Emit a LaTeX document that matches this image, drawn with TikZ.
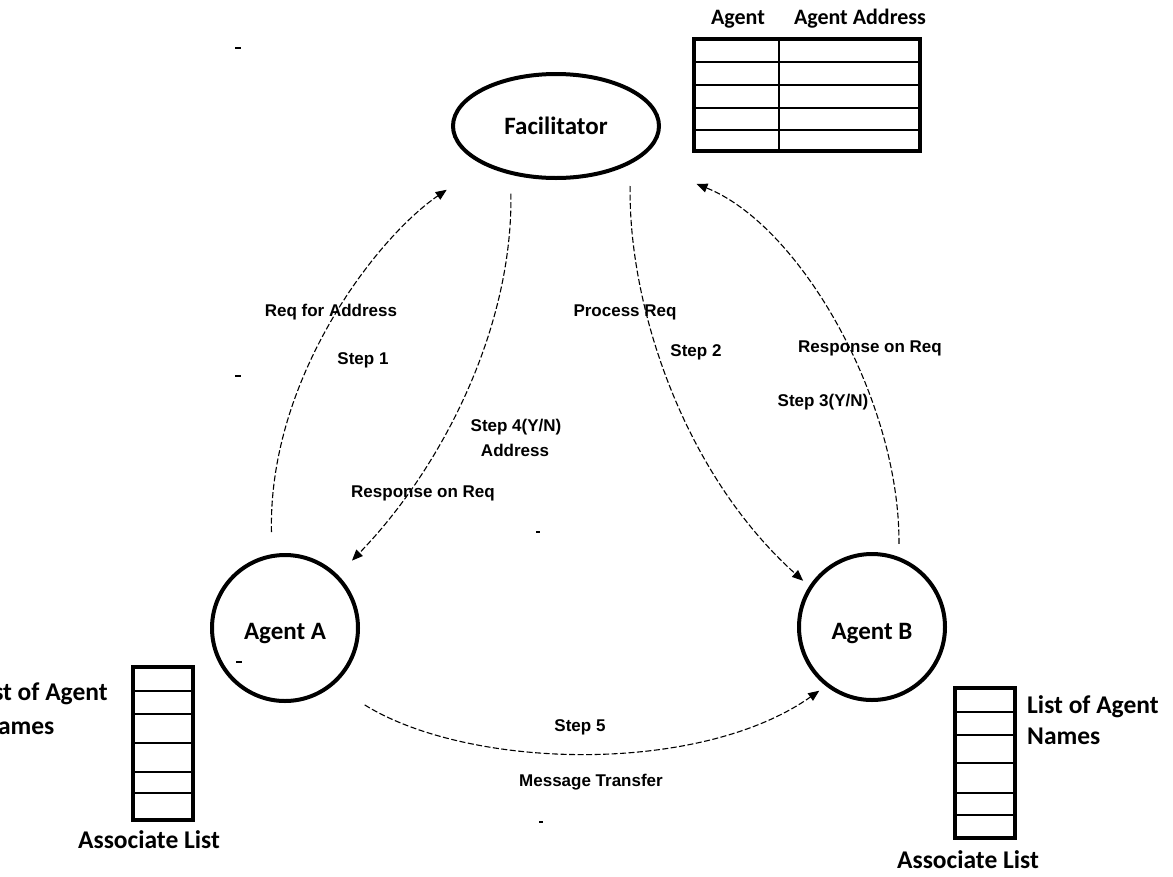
\documentclass[tikz,border=0pt]{standalone}
\usepackage{fontspec}
\setmainfont{Carlito}
\newfontfamily\stepfont{Liberation Sans}
\usetikzlibrary{arrows.meta,shapes.geometric}
\begin{document}
\begin{tikzpicture}[x=1pt,y=-1pt,
  agent/.style={circle, draw, line width=4pt, minimum size=146pt, inner sep=0pt,
    font=\bfseries\fontsize{25}{30}\selectfont},
  hub/.style={ellipse, draw, line width=4pt, minimum width=206pt, minimum height=104pt,
    inner sep=0pt, font=\bfseries\fontsize{25}{30}\selectfont},
  flow/.style={line width=1.1pt, dash pattern=on 6pt off 2.5pt,
    -{Triangle[length=11pt,width=9pt]}},
  steplabel/.style={font=\stepfont\bfseries\fontsize{17}{21}\selectfont, inner sep=0pt},
  headlabel/.style={font=\bfseries\fontsize{22}{27}\selectfont, inner sep=0pt},
  listlabel/.style={font=\bfseries\fontsize{25.5}{31}\selectfont, inner sep=0pt},
  frame/.style={line width=3.5pt},
  rowline/.style={line width=1.2pt},
  speck/.style={line width=1.5pt}
]
\useasboundingbox (0,0) rectangle (1173,876);
\clip (0,0) rectangle (1173,876);

% the three parties
\node[hub]   (F) at (556,126) {Facilitator};
\node[agent] (A) at (285,628) {\raisebox{-6pt}[\height][\depth]{Agent A}};
\node[agent] (B) at (872,627) {\raisebox{-7pt}[\height][\depth]{Agent B}};

% address table of the facilitator
\draw[rowline] (694,62) -- (920,62) (694,85) -- (920,85) (694,108) -- (920,108)
               (694,130) -- (920,130);
\draw[rowline] (779,39) -- (779,151);
\draw[frame] (694,39) rectangle (920,151);
\node[headlabel] (hAgent) at (738,19) {Agent};
\node[headlabel] (hAddr)  at (860,19) {Agent Address};

% associate list of agent A
\draw[rowline] (133,691) -- (193,691) (133,714) -- (193,714) (133,743) -- (193,743)
               (133,772) -- (193,772) (133,793) -- (193,793);
\draw[frame] (133,667) rectangle (193,820);
\node[listlabel, anchor=base west] (lA1) at (-24,700) {List of Agent};
\node[listlabel, anchor=base west] (lA2) at (-19,734) {Names};
\node[listlabel] (aA) at (149,840) {Associate List};

% associate list of agent B
\draw[rowline] (955,712) -- (1015,712) (955,735) -- (1015,735) (955,763) -- (1015,763)
               (955,793) -- (1015,793) (955,815) -- (1015,815);
\draw[frame] (955,688) rectangle (1015,838);
\node[listlabel, anchor=base west] (lB1) at (1027,713) {List of Agent};
\node[listlabel, anchor=base west] (lB2) at (1027,744) {Names};
\node[listlabel] (aB) at (968,860) {Associate List};

% message flows
\draw[flow, shorten <=22pt, shorten >=44pt]
  (A.100) .. controls (268,380) and (375,239) .. (F.208);
\draw[flow, shorten <=19pt, shorten >=20pt]
  (F.227.5) .. controls (513,330) and (440,470) .. (A.45);
\draw[flow, shorten <=22pt, shorten >=8pt]
  (F.333) .. controls (628,300) and (680,470) .. (B.147);
\draw[flow, shorten <=13pt, shorten >=64pt]
  (B.69) .. controls (900,400) and (800,225) .. (F.337);
\draw[flow, shorten <=37pt, shorten >=8pt]
  (A.310) .. controls (470,770) and (700,775) .. (B.232);

% flow labels
\node[steplabel] (t1a) at (331,312) {Req for Address};
\node[steplabel] (t1b) at (363,360) {Step 1};
\node[steplabel] (t2a) at (625,312) {Process Req};
\node[steplabel] (t2b) at (696,352) {Step 2};
\node[steplabel] (t3a) at (870,348) {Response on Req};
\node[steplabel] (t3b) at (823,402) {Step 3(Y/N)};
\node[steplabel] (t4a) at (516,427) {Step 4(Y/N)};
\node[steplabel] (t4b) at (515,450) {Address};
\node[steplabel] (t4c) at (423,493) {Response on Req};
\node[steplabel] (t5a) at (580,727) {Step 5};
\node[steplabel] (t5b) at (591,782) {Message Transfer};

% small stray marks
\draw[speck] (235,48) -- (241,48) (235,376) -- (241,376) (236,662) -- (242,662)
             (536,532) -- (540,532) (539,822) -- (543,822);
\end{tikzpicture}
\end{document}
